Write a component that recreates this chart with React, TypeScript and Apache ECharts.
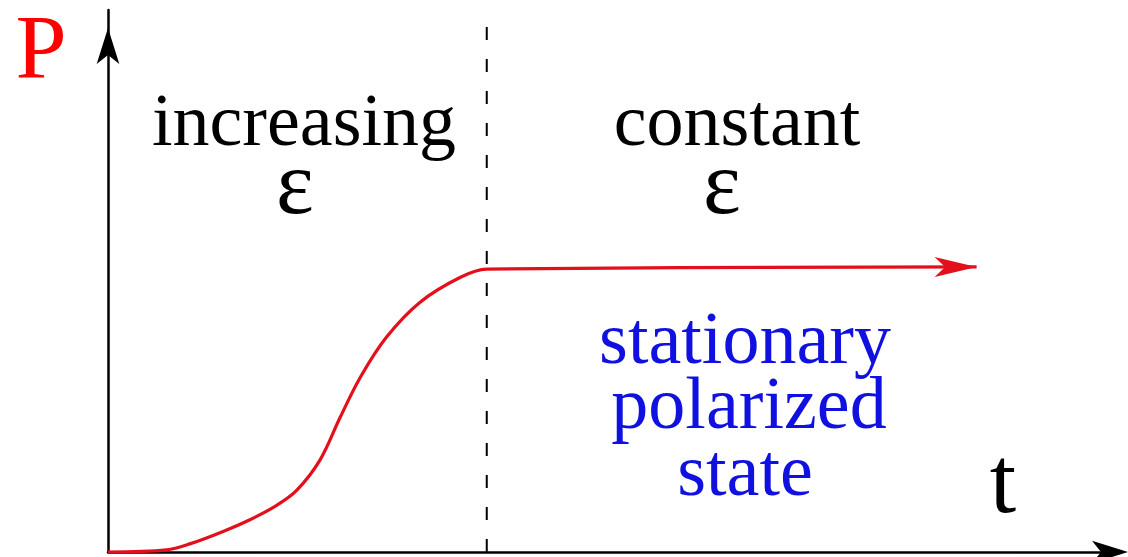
import React, { useEffect, useRef } from "react";
import * as echarts from "echarts";

// Polarization P(t): sigmoid rise while ε increases, then constant plateau
const curveT = [0, 0.58, 0.81, 1.14, 1.41, 1.67, 1.87, 2.1, 2.3, 2.5, 2.76, 3.09, 3.49, 3.75, 8.6];
const curveP = [0, 0.04, 0.15, 0.38, 0.6, 0.86, 1.14, 1.7, 2.49, 3.23, 3.97, 4.61, 5.07, 5.22, 5.26];
const boundaryT = 3.75;
const boundaryTop = 9.82;

const SERIF = "'Liberation Serif', 'DejaVu Serif', serif";
const RED = "#e3101c";

export default function App() {
  const ref = useRef<HTMLDivElement>(null);
  useEffect(() => {
    if (!ref.current) return;
    const chart = echarts.init(ref.current, undefined, { renderer: "svg" });
    const curveData: any[] = curveT.map((t, i) => [t, curveP[i]]);
    const last = curveData.length - 1;
    curveData[last] = {
      value: curveData[last],
      symbol: "arrow",
      symbolSize: [15, 42],
      symbolRotate: -90,
      itemStyle: { color: RED },
    };
    const txt = (text: string, x: number, y: number, size: number, color: string) => ({
      type: "text",
      x,
      y,
      style: {
        text,
        font: `${size}px ${SERIF}`,
        fill: color,
        align: "center",
        verticalAlign: "middle",
        textAlign: "center",
        textVerticalAlign: "middle",
      },
    });
    chart.setOption({
      animation: false,
      backgroundColor: "#ffffff",
      grid: { left: 108, right: 10, top: 10, bottom: 5 },
      xAxis: {
        type: "value",
        min: 0,
        max: 10,
        axisLine: {
          show: true,
          lineStyle: { color: "#000", width: 2.5 },
          symbol: ["none", "arrow"],
          symbolSize: [17, 36],
          symbolOffset: [0, 10],
        },
        axisTick: { show: false },
        axisLabel: { show: false },
        splitLine: { show: false },
      },
      yAxis: {
        type: "value",
        min: 0,
        max: 10,
        axisLine: {
          show: true,
          lineStyle: { color: "#000", width: 2.5 },
          symbol: ["none", "arrow"],
          symbolSize: [17, 36],
          symbolOffset: [0, -18],
        },
        axisTick: { show: false },
        axisLabel: { show: false },
        splitLine: { show: false },
      },
      series: [
        {
          type: "line",
          data: [
            [boundaryT, 0],
            [boundaryT, boundaryTop],
          ],
          symbol: "none",
          lineStyle: { color: "#000", width: 2, type: [13, 19] },
          silent: true,
        },
        {
          type: "line",
          data: curveData,
          symbol: "none",
          smooth: 0.35,
          lineStyle: { color: RED, width: 3.2 },
          itemStyle: { color: RED },
          silent: true,
        },
      ],
      graphic: [
        txt("P", 41, 47, 92, "#ff0000"),
        txt("increasing", 304, 120, 74, "#000"),
        txt("ε", 295, 182, 90, "#000"),
        txt("constant", 737, 120, 74, "#000"),
        txt("ε", 722, 182, 90, "#000"),
        txt("stationary", 745, 338, 74, "#1010e0"),
        txt("polarized", 749, 403, 74, "#1010e0"),
        txt("state", 745, 470, 74, "#1010e0"),
        txt("t", 1003, 480, 95, "#000"),
      ],
    });
    return () => chart.dispose();
  }, []);
  return <div ref={ref} style={{ width: 1128, height: 557, position: "absolute", left: 0, top: 0 }} />;
}
